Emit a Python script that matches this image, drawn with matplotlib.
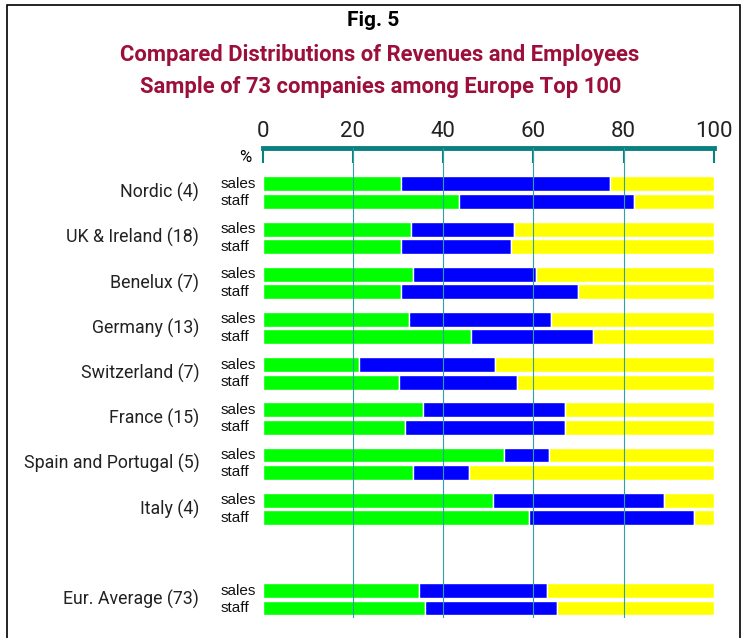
import matplotlib
matplotlib.use("Agg")
import matplotlib.pyplot as plt
from matplotlib.patches import Rectangle
import numpy as np

regions = ["Nordic (4)", "UK & Ireland (18)", "Benelux (7)", "Germany (13)",
           "Switzerland (7)", "France (15)", "Spain and Portugal (5)", "Italy (4)",
           "Eur. Average (73)"]
# cumulative boundaries (green end, blue end) in %
sales_green = [30.6, 32.9, 33.3, 32.5, 21.3, 35.6, 53.4, 51.1, 34.7]
sales_blue_end = [77.0, 55.7, 60.6, 64.0, 51.5, 67.1, 63.5, 88.9, 63.0]
staff_green = [43.6, 30.6, 30.6, 46.2, 30.2, 31.6, 33.3, 59.1, 36.0]
staff_blue_end = [82.3, 55.1, 69.8, 73.3, 56.4, 67.1, 45.8, 95.6, 65.3]
ticks = [0, 20, 40, 60, 80, 100]

GREEN, BLUE, YELLOW = "#00ff00", "#0000ff", "#ffff00"
TEAL = "#0a8080"
RED = "#9c0f3a"

fig = plt.figure(figsize=(7.46, 6.38), dpi=100)
fig.patches.append(Rectangle((0.009, -0.02), 0.983, 1.012, transform=fig.transFigure,
                             fill=False, edgecolor="black", linewidth=1.2))

ax = fig.add_axes([262.5 / 746, 1 - 618 / 638, 451.5 / 746, 470 / 638])

pos = np.array([0, 1, 2, 3, 4, 5, 6, 7, 9], dtype=float)
off = 0.193
h = 0.33
sg = np.array(sales_green); sb = np.array(sales_blue_end)
tg = np.array(staff_green); tb = np.array(staff_blue_end)
for y, g, b in [(pos - off, sg, sb), (pos + off, tg, tb)]:
    ax.barh(y, g, height=h, color=GREEN, edgecolor="white", linewidth=1.0, zorder=2)
    ax.barh(y, b - g, left=g, height=h, color=BLUE, edgecolor="white", linewidth=1.0, zorder=2)
    ax.barh(y, 100 - b, left=b, height=h, color=YELLOW, edgecolor="white", linewidth=1.0, zorder=2)

for t in ticks[1:-1]:
    ax.axvline(t, color="#30a0a8", linewidth=0.8, zorder=3)

ax.set_xlim(0, 100)
ax.set_ylim(9.414, -0.988)
for s in ["left", "right", "bottom"]:
    ax.spines[s].set_visible(False)
ax.spines["top"].set_color(TEAL)
ax.spines["top"].set_linewidth(3.5)
ax.xaxis.tick_top()
ax.set_xticks(ticks)
ax.set_xticklabels([str(t) for t in ticks], fontsize=16, family="Roboto", color="#222222")
ax.tick_params(axis="x", direction="in", length=11, width=1.5, color=TEAL, pad=4)
ax.set_yticks([])

for p, name in zip(pos, regions):
    ax.text(-0.14, p, name, transform=ax.get_yaxis_transform(), ha="right", va="center",
            fontsize=12.8, family="Roboto", color="#222222")
    ax.text(-0.092, p - off, "sales", transform=ax.get_yaxis_transform(), ha="left",
            va="center", fontsize=11, family="Liberation Sans", color="#111111")
    ax.text(-0.092, p + off, "staff", transform=ax.get_yaxis_transform(), ha="left",
            va="center", fontsize=11, family="Liberation Sans", color="#111111")

fig.text(245 / 746, 1 - 157 / 638, "%", ha="center", va="center", fontsize=12,
         family="Roboto")

fig.text(373 / 746, 1 - 21 / 638, "Fig. 5", ha="center", va="center", fontsize=15,
         fontweight="bold", family="Roboto", color="black")
fig.text(380 / 746, 1 - 55 / 638, "Compared Distributions of Revenues and Employees",
         ha="center", va="center", fontsize=15.8, fontweight="bold", family="Roboto",
         color=RED)
fig.text(381 / 746, 1 - 87 / 638, "Sample of 73 companies among Europe Top 100",
         ha="center", va="center", fontsize=15.8, fontweight="bold", family="Roboto",
         color=RED)

fig.savefig("out.png", dpi=100)
